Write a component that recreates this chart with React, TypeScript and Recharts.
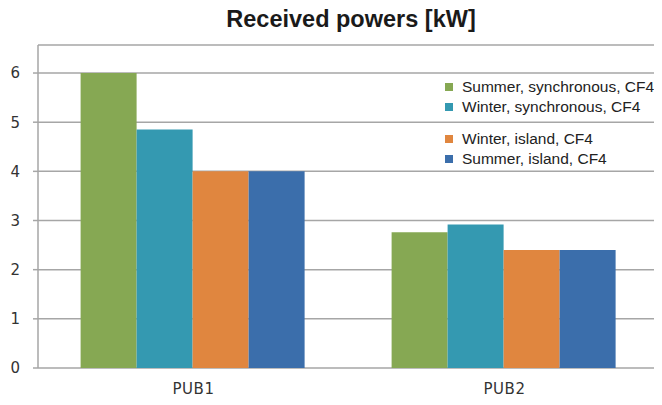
import React from 'react'
import { BarChart, Bar, XAxis, YAxis, CartesianGrid } from 'recharts'

const categories = ['PUB1', 'PUB2']
const seriesNames = [
  'Summer, synchronous, CF4',
  'Winter, synchronous, CF4',
  'Winter, island, CF4',
  'Summer, island, CF4',
]
const summerSync = [6.0, 2.76]
const winterSync = [4.85, 2.92]
const winterIsland = [4.0, 2.4]
const summerIsland = [4.0, 2.4]
const yTicks = [0, 1, 2, 3, 4, 5, 6]
const boundaryTicks = [0, 1, 2]

const COLORS = ['#86A853', '#3499B1', '#E0863F', '#3B6EAB']
const GRID = '#a6a6a6'

const seriesValues = [summerSync, winterSync, winterIsland, summerIsland]
const keys = ['s0', 's1', 's2', 's3']

const data = categories.map((name, i) => {
  const row: Record<string, string | number> = { name }
  keys.forEach((k, j) => {
    row[k] = seriesValues[j][i]
  })
  return row
})

// legend rows sit on either side of the 5 gridline
const legendTops = [77, 97, 129, 149]

function CategoryTick(props: any) {
  const { x, y, payload } = props
  return (
    <text
      x={x}
      y={y + 18}
      textAnchor="middle"
      fill="#333"
      fontSize={15}
      fontFamily='"DejaVu Sans", sans-serif'
      letterSpacing={0.5}
    >
      {payload.value}
    </text>
  )
}

export default function App() {
  return (
    <div style={{ margin: -8, width: 662, height: 405, position: 'relative', background: '#fff' }}>
      <div
        style={{
          position: 'absolute',
          top: 6,
          left: 40,
          width: 622,
          textAlign: 'center',
          fontFamily: '"Liberation Sans", Arial, sans-serif',
          fontWeight: 'bold',
          fontSize: 23.5,
          color: '#1a1a1a',
        }}
      >
        Received powers [kW]
      </div>
      <BarChart
        width={662}
        height={405}
        data={data}
        margin={{ top: 45, right: 2, bottom: 0, left: 0 }}
        barCategoryGap="13.7%"
        barGap={0}
      >
        <CartesianGrid vertical={false} stroke={GRID} strokeWidth={1.5} />
        <XAxis
          xAxisId="edges"
          type="number"
          domain={[0, 2]}
          ticks={boundaryTicks}
          tick={false}
          tickSize={6}
          height={6}
          stroke={GRID}
          strokeWidth={1.5}
        />
        <XAxis
          dataKey="name"
          axisLine={false}
          tickLine={false}
          tickSize={0}
          tickMargin={8}
          height={31}
          tick={<CategoryTick />}
        />
        <YAxis
          domain={[0, 6.57]}
          ticks={yTicks}
          width={38}
          tickSize={5}
          tickMargin={13}
          stroke={GRID}
          strokeWidth={1.5}
          tick={{ fill: '#333', fontSize: 15, fontFamily: '"DejaVu Sans", sans-serif' }}
        />
        {keys.map((k, j) => (
          <Bar key={k} dataKey={k} name={seriesNames[j]} fill={COLORS[j]} isAnimationActive={false} />
        ))}
      </BarChart>
      {seriesNames.map((n, j) => (
        <div
          key={n}
          style={{
            position: 'absolute',
            left: 445,
            top: legendTops[j],
            height: 20,
            display: 'flex',
            alignItems: 'center',
            fontFamily: '"Liberation Sans", Arial, sans-serif',
            fontSize: 15.5,
            color: '#222',
            whiteSpace: 'nowrap',
          }}
        >
          <span style={{ width: 8, height: 8, background: COLORS[j], marginRight: 9, display: 'inline-block' }} />
          {n}
        </div>
      ))}
    </div>
  )
}
